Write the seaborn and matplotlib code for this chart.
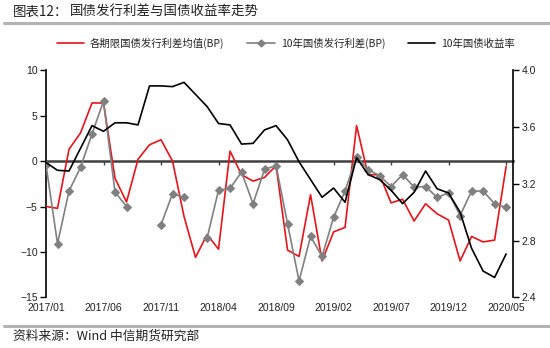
import numpy as np
import pandas as pd
import matplotlib
matplotlib.use("Agg")
import matplotlib.pyplot as plt
from matplotlib.lines import Line2D
import seaborn as sns

# ---------------- data ----------------
months = pd.date_range("2017-01-01", periods=41, freq="MS").strftime("%Y/%m").tolist()
tick_idx = list(range(0, 41, 5))
tick_labels = [months[i] for i in tick_idx]

spread_avg = [-5.0, -5.2, 1.3, 3.1, 6.4, 6.4, -1.9, -4.5, 0.2, 1.8,
              2.35, 0.0, -6.1, -10.6, -8.1, -9.7, 1.1, -1.5, -2.2, -1.8,
              -0.5, -9.8, -10.5, -3.7, -11.0, -7.8, -7.3, 3.9, -1.5, -1.5,
              -4.6, -4.2, -6.6, -4.7, -5.8, -6.5, -11.0, -8.3, -8.9, -8.7,
              -0.6]
spread_10y = [-0.4, -9.1, -3.3, -0.7, 3.0, 6.6, -3.4, -5.0, np.nan, np.nan,
              -7.0, -3.6, -4.0, np.nan, -8.5, -3.2, -3.0, -1.2, -4.7, -0.9,
              -0.5, -6.9, -13.2, -8.3, -10.5, -6.2, -3.3, 0.5, -0.95, -1.6,
              -2.8, -1.5, -2.85, -2.8, -4.0, -3.5, -6.0, -3.3, -3.3, -4.7,
              -5.1]
yield_10y = [3.35, 3.295, 3.29, 3.45, 3.61, 3.57, 3.63, 3.63, 3.615, 3.89,
             3.89, 3.885, 3.915, 3.83, 3.745, 3.625, 3.615, 3.48, 3.485, 3.58,
             3.61, 3.51, 3.355, 3.23, 3.105, 3.17, 3.07, 3.385, 3.265, 3.23,
             3.155, 3.06, 3.14, 3.29, 3.165, 3.135, 3.0, 2.745, 2.585, 2.54,
             2.705]

labels = ["各期限国债发行利差均值(BP)", "10年国债发行利差(BP)", "10年国债收益率"]

# ---------------- style ----------------
sns.set_theme(style="white")
plt.rcParams["font.family"] = ["Noto Sans CJK SC", "DejaVu Sans"]

RED = "#e8141c"
GRAY = "#808080"
BLACK = "#000000"

df = pd.DataFrame({"idx": np.arange(len(months)),
                   "avg": spread_avg, "s10": spread_10y, "y10": yield_10y})
# segment id so that gaps in the 10y spread series stay gaps
df["seg"] = df["s10"].isna().cumsum()

fig = plt.figure(figsize=(5.5, 3.48), dpi=100)
ax = fig.add_axes([46 / 550, 1 - 297.3 / 348, (513 - 46) / 550, (297.3 - 70.3) / 348])
ax2 = ax.twinx()

sns.lineplot(data=df, x="idx", y="avg", ax=ax, color=RED, lw=1.2, zorder=3)
sns.lineplot(data=df.dropna(subset=["s10"]), x="idx", y="s10", units="seg",
             estimator=None, ax=ax, color=GRAY, lw=1.2, marker="D",
             markersize=4.2, markeredgecolor=GRAY, zorder=4)
sns.lineplot(data=df, x="idx", y="y10", ax=ax2, color=BLACK, lw=1.2, zorder=5)

# left axis
ax.set_ylim(-15, 10)
ax.set_yticks([10, 5, 0, -5, -10, -15])
ax.set_yticklabels(["10", "5", "0", "−5", "−10", "−15"])
ax.set_xlim(0, 40.6)
ax.set_xlabel("")
ax.set_ylabel("")
for s in ["top", "right"]:
    ax.spines[s].set_visible(False)
ax.spines["left"].set_color("black")
ax.spines["left"].set_linewidth(1.2)
ax.spines["bottom"].set_position(("data", 0))
ax.spines["bottom"].set_color("#404040")
ax.spines["bottom"].set_linewidth(1.8)
ax.spines["bottom"].set_zorder(2)
ax.set_xticks(tick_idx)
ax.tick_params(axis="x", direction="out", length=3, width=1, color="#404040",
               labelbottom=False, bottom=True)
ax.tick_params(axis="y", direction="out", length=4, width=1, color="black",
               left=True, labelsize=7.5, pad=2, labelcolor="#222222",
               labelfontfamily="Liberation Sans")

sec = ax.secondary_xaxis("bottom")
sec.set_xticks(tick_idx)
sec.set_xticklabels(tick_labels)
sec.spines["bottom"].set_visible(False)
sec.tick_params(length=0, pad=4, labelsize=7.5, labelcolor="#222222",
                labelfontfamily="Liberation Sans")

# right axis
ax2.set_ylim(2.4, 4.0)
ax2.set_yticks([4.0, 3.6, 3.2, 2.8, 2.4])
ax2.set_yticklabels(["4.0", "3.6", "3.2", "2.8", "2.4"])
ax2.set_ylabel("")
for s in ["top", "left", "bottom"]:
    ax2.spines[s].set_visible(False)
ax2.spines["right"].set_color("black")
ax2.spines["right"].set_linewidth(1.2)
ax2.tick_params(axis="y", direction="out", length=4, width=1, color="black",
                right=True, labelsize=7.5, pad=2, labelcolor="#222222",
                labelfontfamily="Liberation Sans")
ax2.grid(False)
ax.grid(False)

# legend
handles = [Line2D([], [], color=RED, lw=1.2),
           Line2D([], [], color=GRAY, lw=1.2, marker="D", markersize=3.5),
           Line2D([], [], color=BLACK, lw=1.2)]
fig.legend(handles, labels, loc="center", bbox_to_anchor=(0.52, 1 - 43 / 348),
           ncol=3, frameon=False, fontsize=7.5, handlelength=2.6,
           columnspacing=2.2, handletextpad=0.6)

# title and source
fig.text(13 / 550, 1 - 12 / 348, "图表12：", fontsize=9.7, va="center", ha="left",
         color="#222222")
fig.text(70 / 550, 1 - 12 / 348, "国债发行利差与国债收益率走势", fontsize=9.7,
         va="center", ha="left", color="#222222")
fig.add_artist(Line2D([4 / 550, 1], [1 - 23 / 348] * 2, color="#b3b3b3", lw=2.2,
                      transform=fig.transFigure))
fig.add_artist(Line2D([4 / 550, 1], [1 - 326 / 348] * 2, color="#b3b3b3", lw=2.2,
                      transform=fig.transFigure))
fig.text(13 / 550, 1 - 336 / 348, "资料来源：Wind 中信期货研究部", fontsize=9.2,
         va="center", ha="left", color="#222222")

fig.savefig("out.png", dpi=100)
